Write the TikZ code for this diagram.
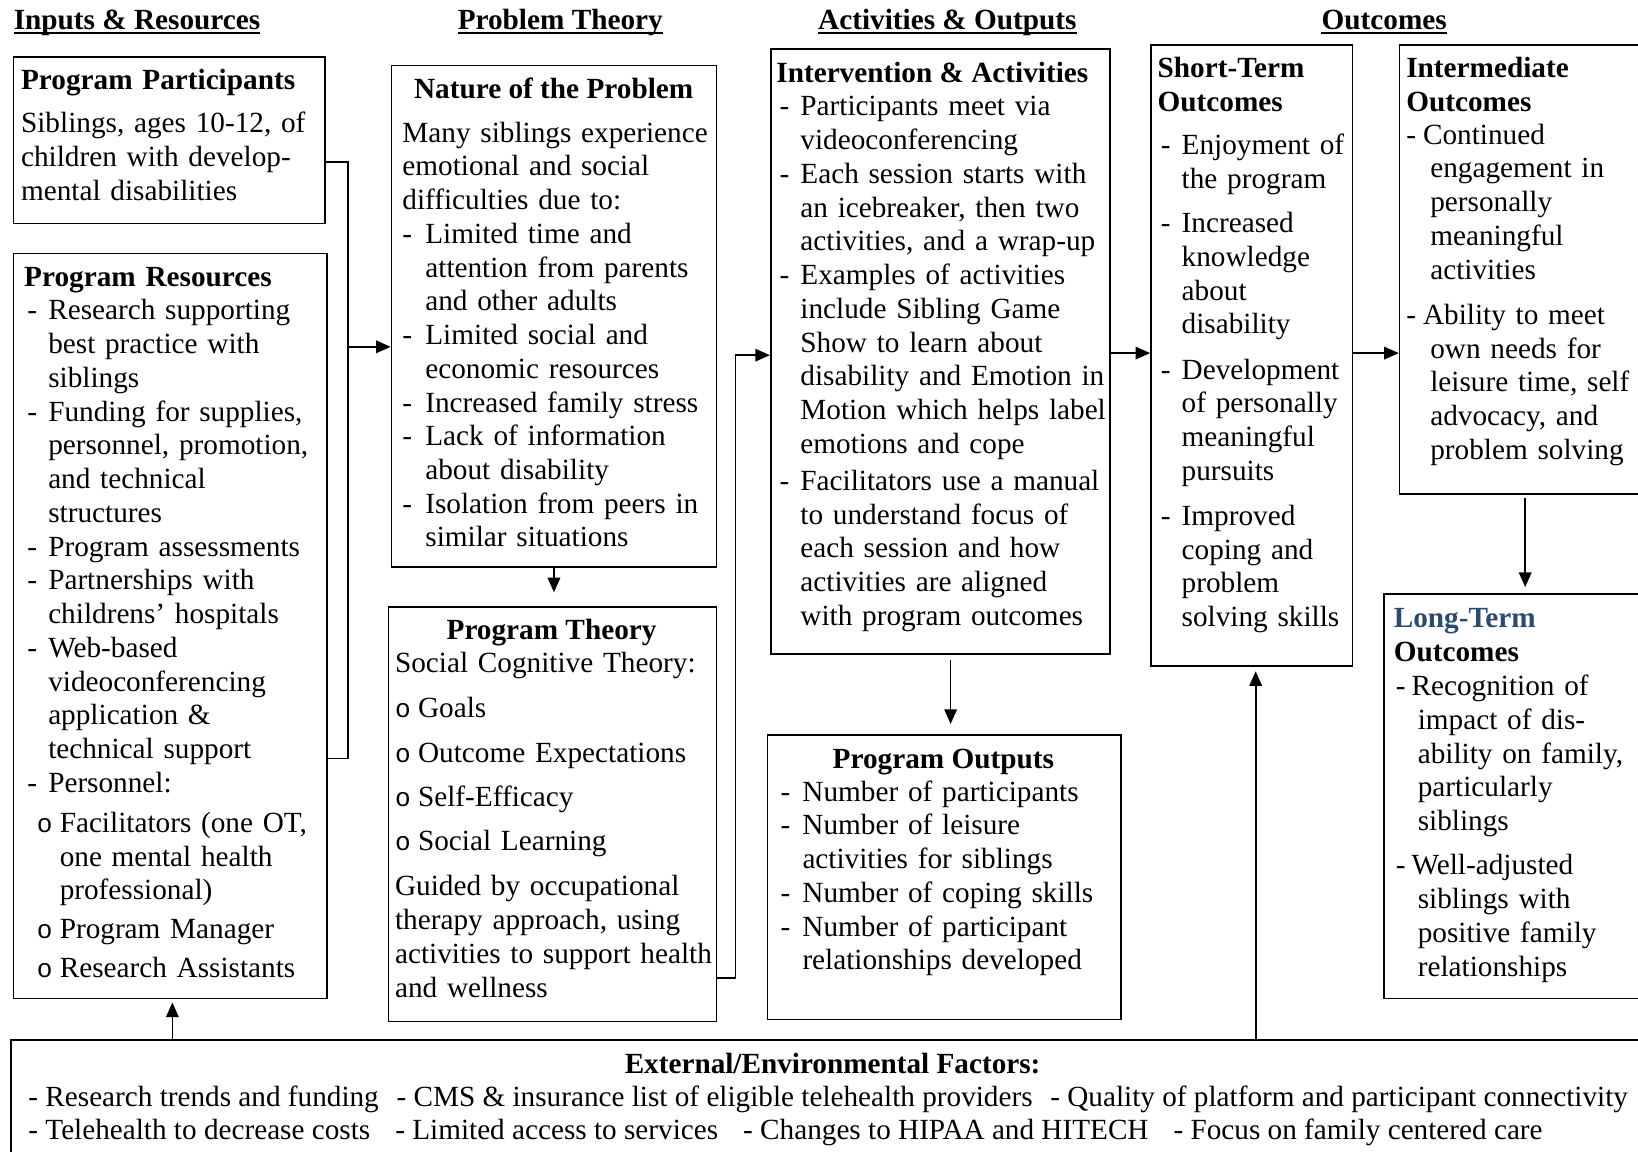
\documentclass[tikz,border=0pt]{standalone}
\usepackage{fontspec}
\usepackage{graphicx}
\setmainfont{Liberation Serif}
\newfontfamily\bulletfont{Liberation Mono}
\usetikzlibrary{arrows.meta}
\definecolor{ltblue}{HTML}{2C4A6E}

% list helpers: dash with hanging indent, continuation indent, circle bullets
\newcommand\dsh[1][20bp]{\makebox[#1][l]{-}}
\newcommand\ind[1][20bp]{\hspace*{#1}}
\newcommand\ob[1][22bp]{\makebox[#1][l]{\bulletfont\fontsize{25bp}{30bp}\selectfont o}}

\newsavebox\extone
\newsavebox\exttwo
\newdimen\extw

\begin{document}
% external factors lines, condensed to a fixed width
\sbox\extone{\fontsize{28bp}{32.3bp}\selectfont - Research trends and funding\hspace{17bp}- CMS \& insurance list of eligible telehealth providers\hspace{17bp}- Quality of platform and participant connectivity}%
\sbox\exttwo{\fontsize{28bp}{32.3bp}\selectfont - Telehealth to decrease costs\hspace{24bp}- Limited access to services\hspace{24bp}- Changes to HIPAA and HITECH\hspace{24bp}- Focus on family centered care}%
\extw=\wd\extone
\pgfmathsetmacro\extsx{1536.74/\extw}%
\begin{tikzpicture}[x=1bp,y=-1bp,
  every node/.style={font=\fontsize{28bp}{32.3bp}\selectfont},
  box/.style={draw, line width=1.6bp, inner sep=0, anchor=north west},
  txt/.style={anchor=base west, inner sep=0, text width=420bp, align=left},
  ttl/.style={anchor=base, inner sep=0, font=\fontsize{28bp}{32.3bp}\selectfont\bfseries},
  hdr/.style={anchor=base west, inner sep=0, font=\fontsize{28bp}{32.3bp}\selectfont\bfseries},
  uline/.style={line width=1.8bp},
  link/.style={line width=1.6bp},
  arr/.style={line width=1.6bp, -{Triangle[length=14bp,width=12bp]}}]

\useasboundingbox (0,0) rectangle (1568,1102);
\clip (0,0) rectangle (1568,1102);

% column headers
\node[hdr] (h1) at (13,28) {Inputs \& Resources};
\node[hdr] (h2) at (438,28) {Problem Theory};
\node[hdr] (h3) at (783,28) {Activities \& Outputs};
\node[hdr] (h4) at (1265,28) {Outcomes};
\foreach \h in {h1,h2,h3,h4}
  \draw[uline] ([yshift=-4bp]\h.base west) -- ([yshift=-4bp]\h.base east);

% boxes
\node[box, minimum width=298bp, minimum height=159bp] (pp) at (12,54) {};
\node[box, minimum width=300bp, minimum height=713bp] (pr) at (12,242) {};
\node[box, minimum width=311bp, minimum height=480bp] (nat) at (374,62) {};
\node[box, minimum width=314bp, minimum height=397bp] (pt) at (371,580) {};
\node[box, minimum width=325bp, minimum height=579bp] (int) at (737,46) {};
\node[box, minimum width=338bp, minimum height=272bp] (out) at (734,703) {};
\node[box, minimum width=193bp, minimum height=595bp] (st) at (1101,42) {};
\node[box, minimum width=280bp, minimum height=430bp] (im) at (1339,42) {};
\node[box, minimum width=290bp, minimum height=387bp] (lt) at (1324,568) {};
\node[box, minimum width=1600bp, minimum height=200bp] (ext) at (10,995) {};

% Inputs & Resources
\node[txt] (ppT) at (20,86) {\textbf{Program Participants}\\[8.7bp]
Siblings, ages 10-12, of\\ children with develop-\\ mental disabilities};

\node[txt] (prT) at (26,274) {\hspace*{-3bp}\textbf{Program Resources}\\
\dsh Research supporting\\ \ind best practice with\\ \ind siblings\\
\dsh Funding for supplies,\\ \ind personnel, promotion,\\ \ind and technical\\ \ind structures\\
\dsh Program assessments\\
\dsh Partnerships with\\ \ind childrens’ hospitals\\
\dsh Web-based\\ \ind videoconferencing\\ \ind application \&\\ \ind technical support\\
\dsh Personnel:\\[6bp]
\hspace*{9bp}\ob Facilitators (one OT,\\ \ind[31bp]one mental health\\ \ind[31bp]professional)\\[5bp]
\hspace*{9bp}\ob Program Manager\\[5bp]
\hspace*{9bp}\ob Research Assistants};

% Problem Theory
\node[ttl] (natH) at (530,94) {Nature of the Problem};
\node[txt] (natT) at (385,136) {Many siblings experience\\ emotional and social\\ difficulties due to:\\
\dsh[22bp]Limited time and\\ \ind[22bp]attention from parents\\ \ind[22bp]and other adults\\
\dsh[22bp]Limited social and\\ \ind[22bp]economic resources\\
\dsh[22bp]Increased family stress\\
\dsh[22bp]Lack of information\\ \ind[22bp]about disability\\
\dsh[22bp]Isolation from peers in\\ \ind[22bp]similar situations};

\node[ttl] (ptH) at (528,612) {Program Theory};
\node[txt] (ptT) at (378,644) {Social Cognitive Theory:\\[11bp]
\ob Goals\\[10bp]
\ob Outcome Expectations\\[10bp]
\ob Self-Efficacy\\[10bp]
\ob Social Learning\\[11bp]
Guided by occupational\\ therapy approach, using\\ activities to support health\\ and wellness};

% Activities & Outputs
\node[hdr] (intH) at (743,79) {Intervention \& Activities};
\node[txt] (intT) at (746,111) {\dsh Participants meet via\\ \ind videoconferencing\\
\dsh Each session starts with\\ \ind an icebreaker, then two\\ \ind activities, and a wrap-up\\
\dsh Examples of activities\\ \ind include Sibling Game\\ \ind Show to learn about\\ \ind disability and Emotion in\\ \ind Motion which helps label\\ \ind emotions and cope\\[3bp]
\dsh Facilitators use a manual\\ \ind to understand focus of\\ \ind each session and how\\ \ind activities are aligned\\ \ind with program outcomes};

\node[ttl] (outH) at (903,736) {Program Outputs};
\node[txt] (outT) at (747,767) {\dsh[21bp]Number of participants\\
\dsh[21bp]Number of leisure\\ \ind[21bp]activities for siblings\\
\dsh[21bp]Number of coping skills\\
\dsh[21bp]Number of participant\\ \ind[21bp]relationships developed};

% Outcomes
\node[txt, font=\fontsize{28bp}{32.3bp}\selectfont\bfseries] (stH) at (1108,74) {Short-Term\\ Outcomes};
\node[txt] (stT) at (1111,148) {\dsh Enjoyment of\\ \ind the program\\[10bp]
\dsh Increased\\ \ind knowledge\\ \ind about\\ \ind disability\\[11bp]
\dsh Development\\ \ind of personally\\ \ind meaningful\\ \ind pursuits\\[11bp]
\dsh Improved\\ \ind coping and\\ \ind problem\\ \ind solving skills};

\node[txt, font=\fontsize{28bp}{32.3bp}\selectfont\bfseries] (imH) at (1346,74) {Intermediate\\ Outcomes};
\node[txt] (imT) at (1346,138) {\dsh[16bp]Continued\\ \ind[23bp]engagement in\\ \ind[23bp]personally\\ \ind[23bp]meaningful\\ \ind[23bp]activities\\[11bp]
\dsh[16bp]Ability to meet\\ \ind[23bp]own needs for\\ \ind[23bp]leisure time, self\\ \ind[23bp]advocacy, and\\ \ind[23bp]problem solving};

\node[txt, font=\fontsize{28bp}{32.3bp}\selectfont\bfseries] (ltH) at (1334,601) {\textcolor{ltblue}{Long-Term}\\ Outcomes};
\node[txt] (ltT) at (1336,666) {\dsh[15bp]Recognition of\\ \ind[21bp]impact of dis-\\ \ind[21bp]ability on family,\\ \ind[21bp]particularly\\ \ind[21bp]siblings\\[10bp]
\dsh[15bp]Well-adjusted\\ \ind[21bp]siblings with\\ \ind[21bp]positive family\\ \ind[21bp]relationships};

% External factors
\node[ttl] (extH) at (797,1028) {\scalebox{\extsx}[1]{External/Environmental Factors:}};
\node[txt] (extA) at (27,1059) {\scalebox{\extsx}[1]{\usebox\extone}};
\node[txt] (extB) at (27,1091) {\scalebox{\extsx}[1]{\usebox\exttwo}};

% connectors
\coordinate (jA) at (333,155);
\coordinate (jB) at (333,726);
\coordinate (jC) at (333,332);
\draw[link] (pp.east |- jA) -- (jA) -- (jB) -- (pr.east |- jB);
\draw[arr] (jC) -- (jC -| nat.west);

\draw[arr, shorten >=13bp] (nat.south) -- (nat.south |- pt.north);

\coordinate (jD) at (704,936);
\coordinate (jE) at (704,340);
\draw[arr] (pt.east |- jD) -- (jD) -- (jE) -- (jE -| int.west);

\coordinate (cF) at (910,0);
\draw[arr, shorten <=5bp, shorten >=10bp] (int.south -| cF) -- (out.north -| cF);

\coordinate (rA) at (0,338);
\draw[arr] (int.east |- rA) -- (st.west |- rA);
\draw[arr] (st.east |- rA) -- (im.west |- rA);

\coordinate (cG) at (1460,0);
\draw[arr, shorten <=3bp, shorten >=6bp] (im.south -| cG) -- (lt.north -| cG);

\coordinate (cH) at (1202,0);
\draw[arr, shorten >=4bp] (ext.north -| cH) -- (st.south -| cH);
\coordinate (cI) at (165,0);
\draw[arr, shorten >=3bp] (ext.north -| cI) -- (pr.south -| cI);

\end{tikzpicture}
\end{document}
